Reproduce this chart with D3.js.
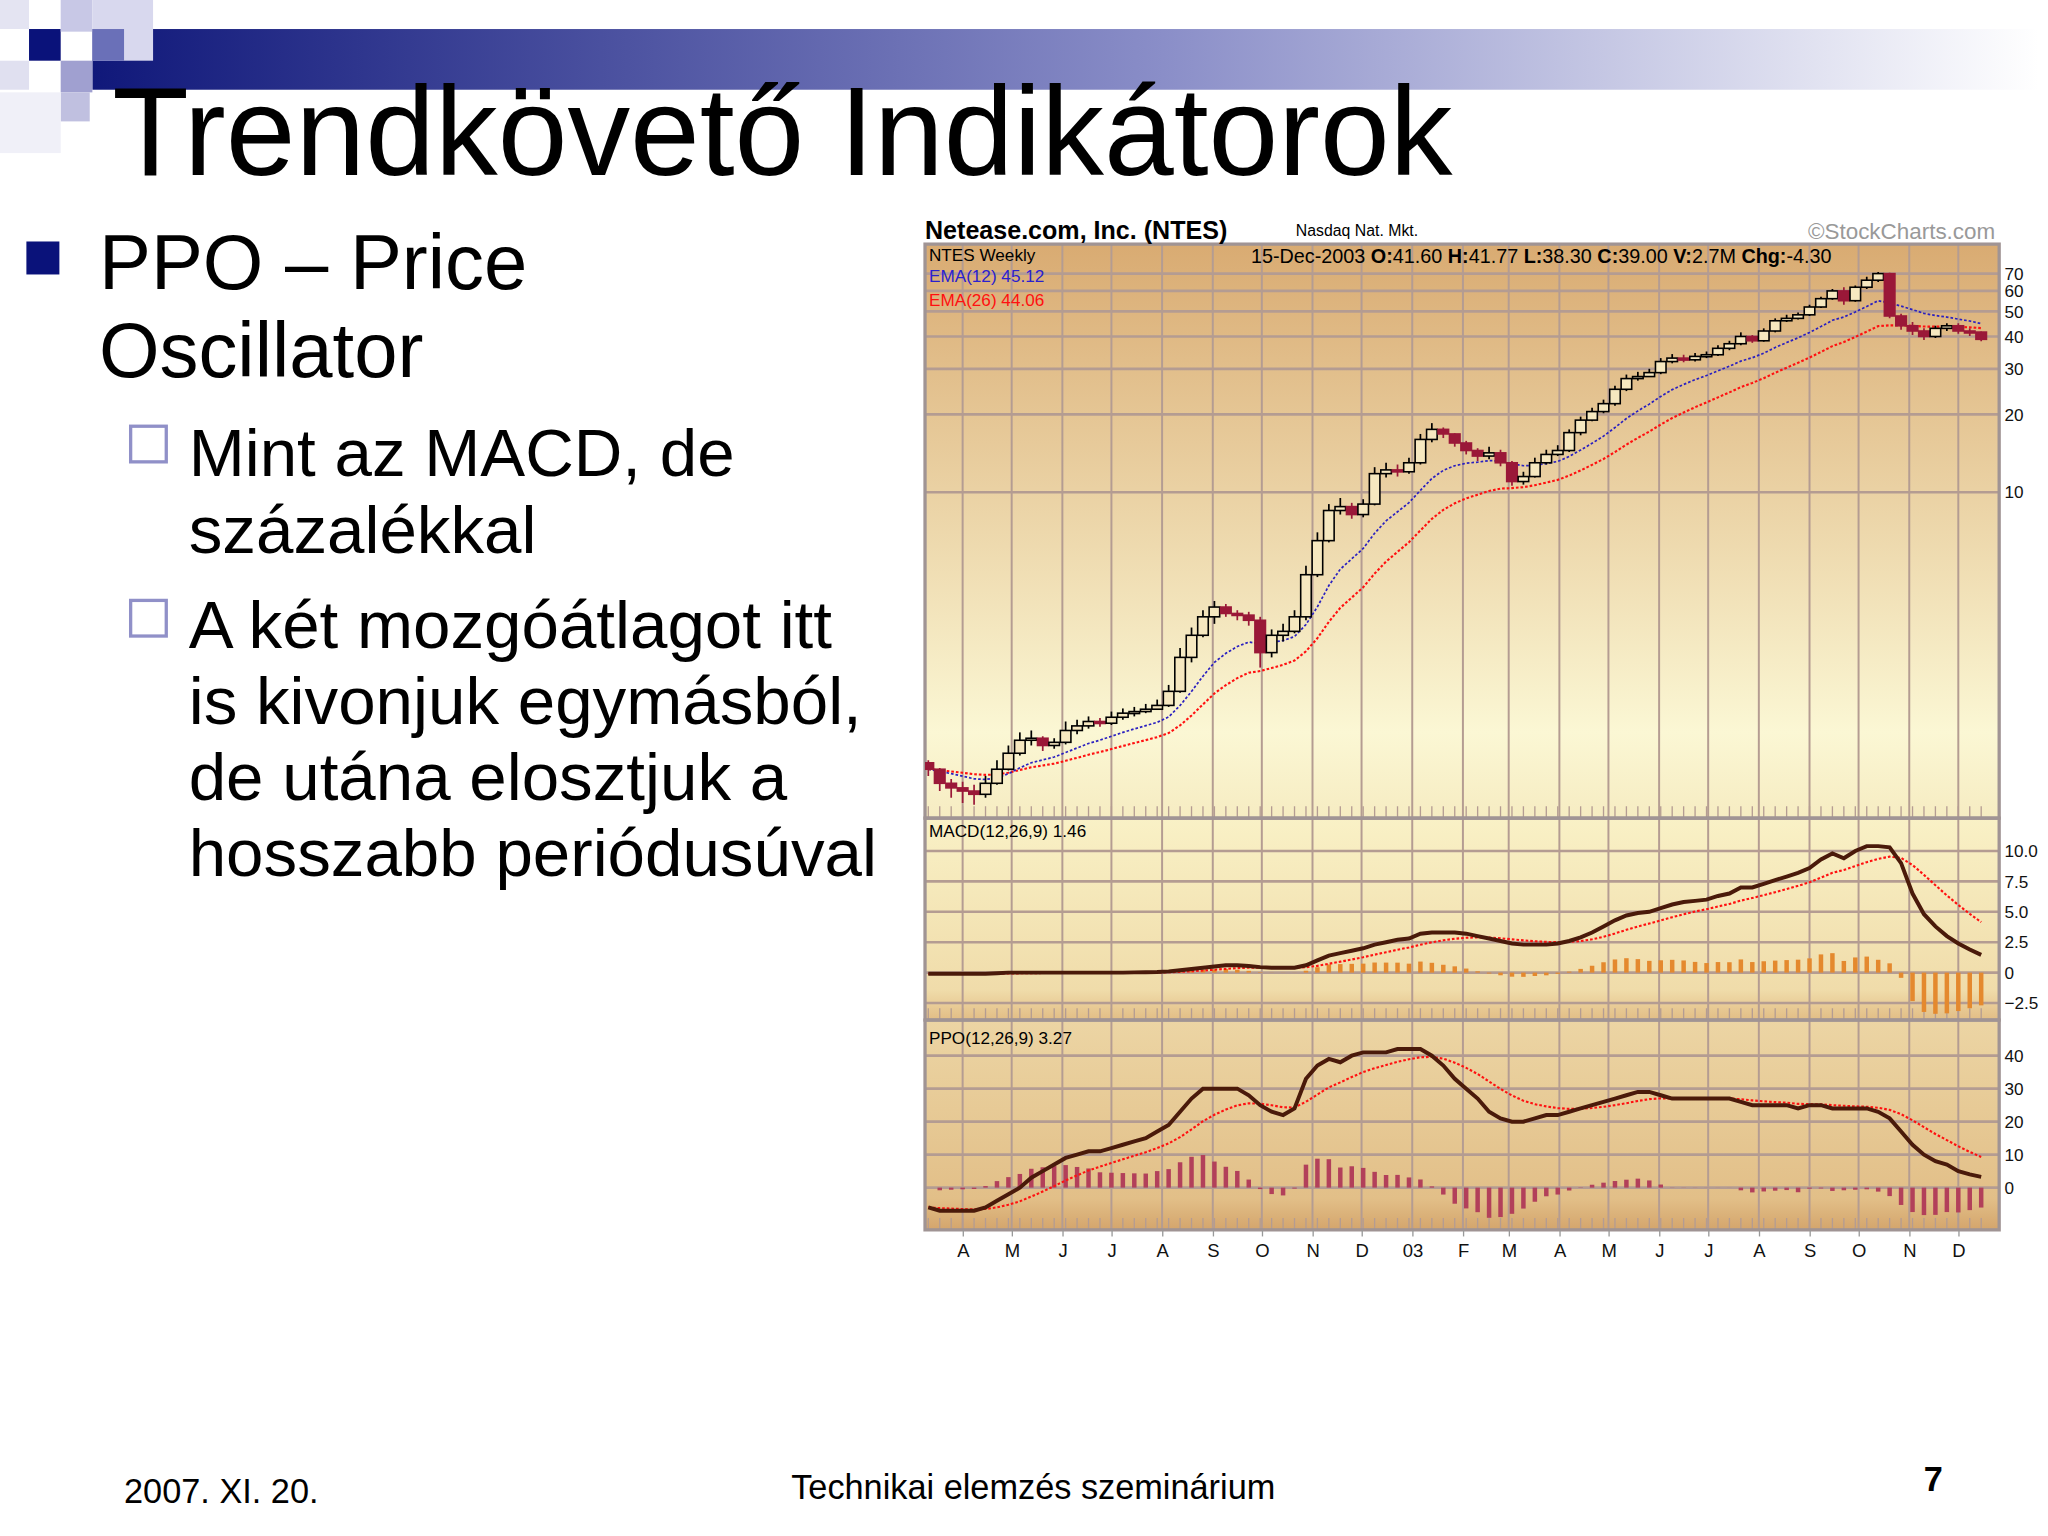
<!DOCTYPE html>
<html><head><meta charset="utf-8">
<script src="https://cdn.jsdelivr.net/npm/d3@7/dist/d3.min.js"></script>
<style>html,body{margin:0;padding:0;background:#fff;}svg{display:block;}</style>
</head><body>
<svg id="c" width="2048" height="1536" viewBox="0 0 1552 1164"></svg>
<script>
// ---- data ----
const startWeek = "2002-03-11";
const closes = [0.85,0.75,0.72, 0.70,0.68,0.75,0.85,0.98, 1.10,1.12,1.05,1.08, 1.20,1.25,1.30,1.28, 1.35,1.40,1.42,1.45,1.50, 1.70,2.30,2.80,3.30, 3.60,3.40,3.35,3.20,2.40, 2.80,2.90,3.30,4.80, 6.50,8.50,8.80,8.20, 9.00,11.8,12.2,12.0,13.0, 16.0,17.5,16.8,15.5, 14.5,13.8,14.2,13.0, 11.0,11.5,13.0,14.0,14.5, 17.0,19.0,20.5,22.0, 25.0,27.5,28.0,29.0, 32.0,33.0,32.5,33.5,34.0, 36.0,37.5,40.0,38.5, 42.0,46.0,47.0,48.5, 52.0,56.0,60.0,55.0,62.0, 66.0,70.0,48.0,44.0, 42.0,40.0,43.0,44.0, 42.0,41.6,39.0];
const highs = [0.92,0.86,0.78, 0.76,0.74,0.80,0.92,1.05, 1.18,1.20,1.14,1.12, 1.30,1.32,1.36,1.34, 1.42,1.46,1.48,1.52,1.58, 1.80,2.50,3.00,3.50, 3.80,3.70,3.50,3.45,3.30, 2.95,3.10,3.50,5.20, 7.00,9.00,9.50,9.10, 9.40,12.5,13.0,12.8,13.6, 16.8,18.5,17.8,16.9, 15.8,14.8,15.0,14.6, 13.2,12.0,13.6,14.6,15.2, 17.5,19.6,21.2,22.8, 25.8,28.5,29.2,30.0, 33.0,34.2,34.0,34.5,35.0, 37.0,38.5,41.5,40.5, 43.0,47.0,48.5,49.5, 53.0,57.0,61.0,62.0,63.0, 68.0,71.0,70.5,49.0, 45.5,43.0,44.0,45.0, 45.0,43.0,41.8];
const lows = [0.80,0.70,0.66, 0.63,0.62,0.66,0.74,0.84, 0.96,1.05,1.00,1.02, 1.06,1.16,1.22,1.24, 1.26,1.32,1.36,1.40,1.44, 1.48,1.68,2.20,2.75, 3.10,3.30,3.20,3.05,2.10, 2.30,2.65,2.85,3.20, 4.70,6.40,8.20,7.90, 8.00,8.90,11.4,11.5,11.8, 12.8,15.6,16.2,15.0, 14.0,13.2,13.4,12.6, 10.6,10.7,11.4,12.8,13.8, 14.3,16.6,18.8,20.2, 21.6,24.6,27.0,28.0, 28.6,31.5,31.8,32.0,33.0, 33.6,35.4,37.0,37.8, 38.2,41.5,45.5,46.5, 48.0,51.5,55.5,53.0,54.5, 61.0,65.0,47.0,42.5, 40.5,38.8,39.5,42.0, 41.0,40.2,38.3];
const firstOpen = 0.90;
const macdLine = [-0.1,-0.1,-0.1, -0.1,-0.1,-0.1,-0.05,0, 0,0,0,0, 0,0,0,0, 0,0,0.02,0.03,0.05, 0.1,0.2,0.3,0.4, 0.5,0.6,0.6,0.55,0.45, 0.4,0.4,0.4,0.6, 1.0,1.4,1.6,1.8, 2.0,2.3,2.5,2.7,2.8, 3.2,3.3,3.3,3.3, 3.2,3.0,2.8,2.6, 2.4,2.3,2.3,2.3,2.4, 2.6,2.9,3.3,3.8, 4.3,4.7,4.9,5.0, 5.3,5.6,5.8,5.9,6.0, 6.3,6.5,7.0,7.0, 7.3,7.6,7.9,8.2, 8.6,9.3,9.8,9.4,10.0, 10.4,10.4,10.3,9.0, 6.5,4.8,3.8,3.0, 2.4,1.9,1.46];
const ppoLine = [-6,-7,-7, -7,-7,-6,-4,-2, 0,3,5,7, 9,10,11,11, 12,13,14,15,17, 19,23,27,30, 30,30,30,28,25, 23,22,24,33, 37,39,38,40, 41,41,41,42,42, 42,40,37,33, 30,27,23,21, 20,20,21,22,22, 23,24,25,26, 27,28,29,29, 28,27,27,27,27, 27,27,26,25, 25,25,25,24, 25,25,24,24,24, 24,23,21,17, 13,10,8,7, 5,4,3.27];
const priceTicks = [10,20,30,40,50,60,70];
const macdTicks = [-2.5,0,2.5,5.0,7.5,10.0];
const ppoTicks = [0,10,20,30,40];
const monthLabels = ["A","M","J","J","A","S","O","N","D","03","F","M","A","M","J","J","A","S","O","N","D"];
const firstMonth = "2002-04-01";

// ---- helpers ----
function ema(arr,n){const k=2/(n+1);const out=[];arr.forEach((v,i)=>out.push(i?v*k+out[i-1]*(1-k):v));return out;}
const weeks = closes.map((_,i)=>d3.timeDay.offset(new Date(startWeek+"T00:00:00"), 7*i));
const opens = closes.map((c,i)=>i?closes[i-1]:firstOpen);
const ema12 = ema(closes,12), ema26 = ema(closes,26);
const macdSig = ema(macdLine,9), ppoSig = ema(ppoLine,9);
const months = monthLabels.map((l,i)=>d3.timeMonth.offset(new Date(firstMonth+"T00:00:00"), i));

const svg = d3.select("#c");
const defs = svg.append("defs");

// ---- slide decoration ----
const hg = defs.append("linearGradient").attr("id","hg");
hg.append("stop").attr("offset",0).attr("stop-color","#10187a");
hg.append("stop").attr("offset",0.55).attr("stop-color","#8a8ec8");
hg.append("stop").attr("offset",1).attr("stop-color","#ffffff");
svg.append("rect").attr("x",70).attr("y",22).attr("width",1475).attr("height",46).attr("fill","url(#hg)");
[[0,0,22,"#e4e4f2"],[22,22,24,"#0a127a"],[46,0,24,"#c8c8e6"],[70,0,46,"#d8d8ee"],[46,46,24,"#a0a0d0"],[0,46,22,"#e0e0f0"],[46,70,22,"#c0c0e0"],[70,22,24,"#6a70b8"],[0,70,46,"#f0f0f8"]]
 .forEach(s=>svg.append("rect").attr("x",s[0]).attr("y",s[1]).attr("width",s[2]).attr("height",s[2]).attr("fill",s[3]));

const F = "'Liberation Sans', Arial, sans-serif";
svg.append("text").attr("x",85).attr("y",133).attr("font-family",F).attr("font-size",95).text("Trendkövető Indikátorok");
svg.append("rect").attr("x",20).attr("y",183).attr("width",25).attr("height",25).attr("fill","#0a127a");
const body = svg.append("g").attr("font-family",F);
body.append("text").attr("x",75).attr("y",219).attr("font-size",59).text("PPO – Price");
body.append("text").attr("x",75).attr("y",286).attr("font-size",59).text("Oscillator");
[[323],[455]].forEach(b=>svg.append("rect").attr("x",99).attr("y",b[0]).attr("width",27).attr("height",27).attr("fill","none").attr("stroke","#9090c8").attr("stroke-width",2.5));
[["Mint az MACD, de",361],["százalékkal",419],["A két mozgóátlagot itt",491],["is kivonjuk egymásból,",549],["de utána elosztjuk a",606],["hosszabb periódusúval",664]]
 .forEach(t=>body.append("text").attr("x",143).attr("y",t[1]).attr("font-size",51).text(t[0]));
svg.append("text").attr("x",94).attr("y",1139).attr("font-family",F).attr("font-size",26).text("2007. XI. 20.");
svg.append("text").attr("x",783).attr("y",1136).attr("text-anchor","middle").attr("font-family",F).attr("font-size",26).text("Technikai elemzés szeminárium");
svg.append("text").attr("x",1465).attr("y",1130).attr("text-anchor","middle").attr("font-family",F).attr("font-size",26).attr("font-weight","bold").text("7");

// ---- chart ----
const L=701, R=1515;
const x = d3.scaleTime().domain([new Date("2002-03-09T00:00:00"), new Date("2003-12-26T00:00:00")]).range([L,R]);
const panels = [
 {id:"p1",top:185,bot:620,c1:"#d9ab72",c2:"#fbf7d4",c3:"#f6ecc2"},
 {id:"p2",top:620,bot:773,c1:"#f9f1c6",c2:"#f0dcaa",c3:"#e2bd85"},
 {id:"p3",top:773,bot:932,c1:"#ecd5a4",c2:"#e2bf88",c3:"#d4a56c"}];
panels.forEach(p=>{
  const g=defs.append("linearGradient").attr("id","g"+p.id).attr("x1",0).attr("x2",0).attr("y1",0).attr("y2",1);
  g.append("stop").attr("offset",0).attr("stop-color",p.c1);
  g.append("stop").attr("offset",0.85).attr("stop-color",p.c2);
  g.append("stop").attr("offset",1).attr("stop-color",p.c3);
  svg.append("rect").attr("x",L).attr("y",p.top).attr("width",R-L).attr("height",p.bot-p.top).attr("fill","url(#g"+p.id+")");
  defs.append("clipPath").attr("id","clip"+p.id).append("rect").attr("x",L).attr("y",p.top).attr("width",R-L).attr("height",p.bot-p.top);
});
const gridC="#b49c92";
const yP = d3.scaleLog().domain([0.55,91]).range([620,185]);
const yM = d3.scaleLinear().domain([-3.9,12.7]).range([773,620]);
const yO = d3.scaleLinear().domain([-12.8,50.8]).range([932,773]);
const ys=[yP,yM,yO], tks=[priceTicks,macdTicks,ppoTicks];

panels.forEach((p,i)=>{
  const g=svg.append("g").attr("clip-path","url(#clip"+p.id+")");
  g.selectAll(".h").data(tks[i]).join("line").attr("x1",L).attr("x2",R).attr("y1",d=>ys[i](d)).attr("y2",d=>ys[i](d)).attr("stroke",gridC).attr("stroke-width",2);
  g.selectAll(".v").data(months).join("line").attr("x1",d=>x(d)).attr("x2",d=>x(d)).attr("y1",p.top).attr("y2",p.bot).attr("stroke",gridC).attr("stroke-width",1.5);
  g.selectAll(".t").data(weeks).join("line").attr("x1",d=>x(d)).attr("x2",d=>x(d)).attr("y1",p.bot-9).attr("y2",p.bot).attr("stroke",gridC).attr("stroke-width",1);
  const ax = d3.axisRight(ys[i]).tickValues(tks[i]).tickSize(0).tickPadding(4)
    .tickFormat(i===1?(d=>d===0?"0":d3.format(".1f")(d)):d3.format("d"));
  const a=svg.append("g").attr("transform",`translate(${R},0)`).call(ax);
  a.select(".domain").remove();
  a.selectAll("text").attr("font-family",F).attr("font-size",13).attr("fill","#111");
});
panels.forEach(p=>svg.append("rect").attr("x",L).attr("y",p.top).attr("width",R-L).attr("height",p.bot-p.top).attr("fill","none").attr("stroke","#a09494").attr("stroke-width",2.5));

// price panel
const gp=svg.append("g").attr("clip-path","url(#clipp1)");
const line=(y,arr)=>d3.line().x((d,i)=>x(weeks[i])).y(d=>y(d))(arr);
gp.append("path").attr("d",line(yP,ema26)).attr("fill","none").attr("stroke","#ff1010").attr("stroke-width",1.6).attr("stroke-dasharray","2,1.5");
gp.append("path").attr("d",line(yP,ema12)).attr("fill","none").attr("stroke","#2a20c0").attr("stroke-width",1.3).attr("stroke-dasharray","2,1.5");
const cw=4;
const cg=gp.selectAll(".cd").data(closes.map((c,i)=>({c,o:opens[i],h:highs[i],l:lows[i],d:weeks[i]}))).join("g");
cg.append("line").attr("x1",d=>x(d.d)).attr("x2",d=>x(d.d)).attr("y1",d=>yP(d.h)).attr("y2",d=>yP(d.l)).attr("stroke",d=>d.c<d.o?"#9a1838":"#000").attr("stroke-width",1.3);
cg.append("rect").attr("x",d=>x(d.d)-cw).attr("width",2*cw)
  .attr("y",d=>yP(Math.max(d.o,d.c))).attr("height",d=>Math.max(1.5,Math.abs(yP(d.o)-yP(d.c))))
  .attr("fill",d=>d.c<d.o?"#9a1838":"#f6e8c0").attr("stroke",d=>d.c<d.o?"#9a1838":"#000").attr("stroke-width",1.2);

// MACD panel
const gm=svg.append("g").attr("clip-path","url(#clipp2)");
const bw=3.4;
gm.selectAll(".hb").data(macdLine.map((v,i)=>({h:v-macdSig[i],d:weeks[i]}))).join("rect")
  .attr("x",d=>x(d.d)-bw/2).attr("width",bw).attr("y",d=>yM(Math.max(0,d.h))).attr("height",d=>Math.abs(yM(d.h)-yM(0))).attr("fill","#e4892e");
gm.append("path").attr("d",line(yM,macdSig)).attr("fill","none").attr("stroke","#ff1010").attr("stroke-width",1.6).attr("stroke-dasharray","2,1.5");
gm.append("path").attr("d",line(yM,macdLine)).attr("fill","none").attr("stroke","#4a1a0a").attr("stroke-width",3);

// PPO panel
const go=svg.append("g").attr("clip-path","url(#clipp3)");
go.selectAll(".hb").data(ppoLine.map((v,i)=>({h:v-ppoSig[i],d:weeks[i]}))).join("rect")
  .attr("x",d=>x(d.d)-bw/2).attr("width",bw).attr("y",d=>yO(Math.max(0,d.h))).attr("height",d=>Math.abs(yO(d.h)-yO(0))).attr("fill","#b2405a");
go.append("path").attr("d",line(yO,ppoSig)).attr("fill","none").attr("stroke","#ff1010").attr("stroke-width",1.6).attr("stroke-dasharray","2,1.5");
go.append("path").attr("d",line(yO,ppoLine)).attr("fill","none").attr("stroke","#4a1a0a").attr("stroke-width",3);

// x axis labels
const xa=d3.axisBottom(x).tickValues(months).tickSize(5).tickFormat((d,i)=>monthLabels[i]);
const xg=svg.append("g").attr("transform","translate(0,932)").call(xa);
xg.select(".domain").remove();
xg.selectAll("line").attr("stroke","#999");
xg.selectAll("text").attr("font-family",F).attr("font-size",14).attr("fill","#111").attr("dy","0.9em");

// chart texts
const ct=svg.append("g").attr("font-family",F);
ct.append("text").attr("x",701).attr("y",181).attr("font-size",19).attr("font-weight","bold").text("Netease.com, Inc. (NTES)");
ct.append("text").attr("x",982).attr("y",179).attr("font-size",12).text("Nasdaq Nat. Mkt.");
ct.append("text").attr("x",1512).attr("y",181).attr("text-anchor","end").attr("font-size",17).attr("fill","#999").text("©StockCharts.com");
const hdr=ct.append("text").attr("x",948).attr("y",199).attr("font-size",15).attr("clip-path","url(#clipp1)");
[["15-Dec-2003 ",0],["O:",1],["41.60 ",0],["H:",1],["41.77 ",0],["L:",1],["38.30 ",0],["C:",1],["39.00 ",0],["V:",1],["2.7M ",0],["Chg:",1],["-4.30",0]]
 .forEach(s=>hdr.append("tspan").attr("font-weight",s[1]?"bold":"normal").text(s[0]));
ct.append("text").attr("x",704).attr("y",198).attr("font-size",13).text("NTES Weekly");
ct.append("text").attr("x",704).attr("y",214).attr("font-size",13).attr("fill","#2a20d0").text("EMA(12) 45.12");
ct.append("text").attr("x",704).attr("y",232).attr("font-size",13).attr("fill","#ff1010").text("EMA(26) 44.06");
ct.append("text").attr("x",704).attr("y",634).attr("font-size",13).text("MACD(12,26,9) 1.46");
ct.append("text").attr("x",704).attr("y",791).attr("font-size",13).text("PPO(12,26,9) 3.27");
</script>
</body></html>
